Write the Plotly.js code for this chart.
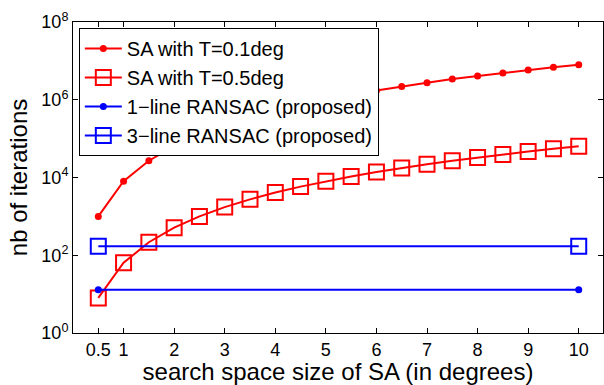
<!DOCTYPE html>
<html>
<head>
<meta charset="utf-8">
<script src="https://cdn.plot.ly/plotly-3.0.1.min.js"></script>
<style>
html,body{margin:0;padding:0;background:#fff;}
#chart{width:604px;height:385px;}
</style>
</head>
<body>
<div id="chart"></div>
<script>
const xSA = [0.5,1,1.5,2,2.5,3,3.5,4,4.5,5,5.5,6,6.5,7,7.5,8,8.5,9,9.5,10];
const saT01 = [1000,8000,27000,64000,125000,216000,343000,512000,729000,1000000,1330000,1730000,2200000,2750000,3400000,4100000,4900000,5850000,6900000,8000000];
const saT05 = [8,64,216,512,1000,1730,2740,4100,5830,8000,10600,13800,17600,22000,27000,32800,39300,46700,54900,64000];
const xRansac = [0.5,10];
const ransac1 = [13,13];
const ransac3 = [170,170];
const names = ['SA with T=0.1deg','SA with T=0.5deg','1\u2212line RANSAC (proposed)','3\u2212line RANSAC (proposed)'];
const xTicks = [0.5,1,2,3,4,5,6,7,8,9,10];
const xTickText = ['0.5','1','2','3','4','5','6','7','8','9','10'];
const yTicks = [1,100,1e4,1e6,1e8];
const yTickText = ['10<sup>0</sup>','10<sup>2</sup>','10<sup>4</sup>','10<sup>6</sup>','10<sup>8</sup>'];

const red = '#ff0000', blue = '#0000ff';
const traces = [
  {x: xSA, y: saT01, name: names[0], mode: 'lines+markers',
   line: {color: red, width: 2}, marker: {symbol: 'circle', size: 7, color: red}},
  {x: xSA, y: saT05, name: names[1], mode: 'lines+markers',
   line: {color: red, width: 2}, marker: {symbol: 'square-open', size: 15, color: red, line: {width: 2, color: red}}},
  {x: xRansac, y: ransac1, name: names[2], mode: 'lines+markers',
   line: {color: blue, width: 2}, marker: {symbol: 'circle', size: 7, color: blue}},
  {x: xRansac, y: ransac3, name: names[3], mode: 'lines+markers',
   line: {color: blue, width: 2}, marker: {symbol: 'square-open', size: 15, color: blue, line: {width: 2, color: blue}}}
];
const font = 'Liberation Sans, Arial, Helvetica, sans-serif';
const layout = {
  width: 604, height: 385,
  margin: {l: 73, r: 1, t: 22, b: 52},
  paper_bgcolor: '#fff', plot_bgcolor: '#fff',
  font: {family: font, color: '#000', size: 18},
  showlegend: true,
  legend: {x: 0.011, y: 0.981, xanchor: 'left', yanchor: 'top',
    bgcolor: '#fff', bordercolor: '#000', borderwidth: 1, itemwidth: 37,
    font: {family: font, size: 20, color: '#000'}, tracegroupgap: 0},
  xaxis: {range: [0, 10.48], tickvals: xTicks, ticktext: xTickText,
    ticks: 'inside', ticklen: 5, tickcolor: '#000', showline: true, linecolor: '#000', linewidth: 1,
    mirror: 'ticks', showgrid: false, zeroline: false,
    tickfont: {size: 18},
    title: {text: 'search space size of SA (in degrees)', font: {size: 24}, standoff: 4}},
  yaxis: {type: 'log', range: [0, 8], tickvals: yTicks, ticktext: yTickText,
    ticks: 'inside', ticklen: 5, tickcolor: '#000', showline: true, linecolor: '#000', linewidth: 1,
    mirror: 'ticks', showgrid: false, zeroline: false,
    tickfont: {size: 18},
    title: {text: 'nb of iterations', font: {size: 24}, standoff: 6}}
};
Plotly.newPlot('chart', traces, layout, {displayModeBar: false, staticPlot: true});
</script>
</body>
</html>
